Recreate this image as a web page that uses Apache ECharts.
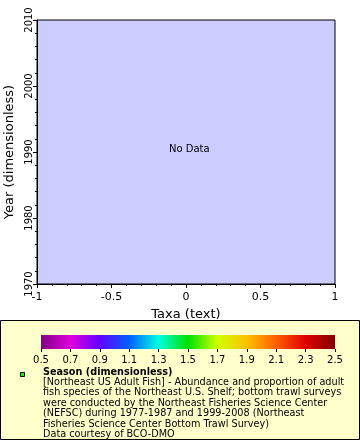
<!DOCTYPE html>
<html><head><meta charset="utf-8">
<script src="https://cdn.jsdelivr.net/npm/echarts@6/dist/echarts.min.js"></script>
<style>html,body{margin:0;padding:0;background:#fff}#c{width:360px;height:440px}</style>
</head><body><div id="c"></div>
<script>
const xRange = [-1, 1];
const yRange = [1970, 2010];
const seriesData = [];
const cbLabels = ['0.5','0.7','0.9','1.1','1.3','1.5','1.7','1.9','2.1','2.3','2.5'];
const cbColors = ['#800080','#e000e0','#6000ff','#0060ff','#00ffe0','#00e000','#d0ff00','#ffc000','#ff6000','#e00000','#800000'];
const legendTitle = 'Season (dimensionless)';
const legendLines = [
  '[Northeast US Adult Fish] - Abundance and proportion of adult',
  'fish species of the Northeast U.S. Shelf; bottom trawl surveys',
  'were conducted by the Northeast Fisheries Science Center',
  '(NEFSC) during 1977-1987 and 1999-2008 (Northeast',
  'Fisheries Science Center Bottom Trawl Survey)',
  'Data courtesy of BCO-DMO'
];
const F = 'DejaVu Sans';
const chart = echarts.init(document.getElementById('c'), null, {renderer:'canvas'});
const stops = cbColors.map((c,i)=>({offset:i/(cbColors.length-1), color:c}));
chart.setOption({
  animation:false,
  backgroundColor:'#fff',
  grid:[
    {left:37, top:20, right:25, bottom:156, show:true, backgroundColor:'#ccccff', borderColor:'#000', borderWidth:1, outerBoundsMode:'none', containLabel:false},
    {left:41, top:335, right:25, height:14, show:false, outerBoundsMode:'none', containLabel:false}
  ],
  xAxis:[
    {type:'value', gridIndex:0, min:xRange[0], max:xRange[1], interval:0.5,
     name:'Taxa (text)', nameLocation:'middle', nameGap:16,
     nameTextStyle:{fontFamily:F, fontSize:13, color:'#000'},
     axisLine:{onZero:false, lineStyle:{color:'#000'}},
     axisTick:{show:true, length:4, lineStyle:{color:'#000'}},
     minorTick:{show:true, splitNumber:5, length:2, lineStyle:{color:'#000'}},
     splitLine:{show:false},
     axisLabel:{fontFamily:F, fontSize:11, color:'#000', margin:8,
       formatter:v=>v===0?'0':String(v)}},
    {type:'category', gridIndex:1, data:cbLabels, boundaryGap:false, position:'bottom',
     axisLine:{show:false},
     axisTick:{show:true, length:3, lineStyle:{color:'#000'}},
     splitLine:{show:false},
     axisLabel:{fontFamily:F, fontSize:10, color:'#000', margin:6, interval:0}}
  ],
  yAxis:[
    {type:'value', gridIndex:0, min:yRange[0], max:yRange[1], interval:10,
     name:'Year (dimensionless)', nameLocation:'middle', nameGap:17,
     nameTextStyle:{fontFamily:F, fontSize:13, color:'#000'},
     axisLine:{onZero:false, lineStyle:{color:'#000'}},
     axisTick:{show:true, length:4, lineStyle:{color:'#000'}},
     minorTick:{show:true, splitNumber:5, length:2, lineStyle:{color:'#000'}},
     splitLine:{show:false},
     axisLabel:{fontFamily:F, fontSize:10, color:'#000', rotate:90, margin:3, formatter:v=>String(v)}},
    {type:'value', gridIndex:1, min:0, max:1, show:false}
  ],
  series:[
    {type:'scatter', xAxisIndex:0, yAxisIndex:0, data:seriesData}
  ],
  graphic:[
    {type:'text', left:169, top:144, style:{text:'No Data', font:'10px "DejaVu Sans"', fill:'#000'}},
    {type:'rect', z:-1, shape:{x:0.5, y:320.5, width:359, height:119}, style:{fill:'#ffffcc', stroke:'#000', lineWidth:1}},
    {type:'rect', shape:{x:41, y:335, width:294, height:14}, style:{fill:new echarts.graphic.LinearGradient(0,0,1,0,stops)}},
    {type:'rect', shape:{x:20.5, y:372.5, width:4, height:4}, style:{fill:'#00ff00', stroke:'#000', lineWidth:1}},
    {type:'text', left:43, top:367, style:{text:legendTitle, font:'bold 9.7px "DejaVu Sans"', fill:'#000'}},
    {type:'text', left:43, top:377, style:{text:legendLines.join('\n'), font:'9.7px "DejaVu Sans"', lineHeight:10.5, fill:'#000'}}
  ]
});
</script></body></html>
